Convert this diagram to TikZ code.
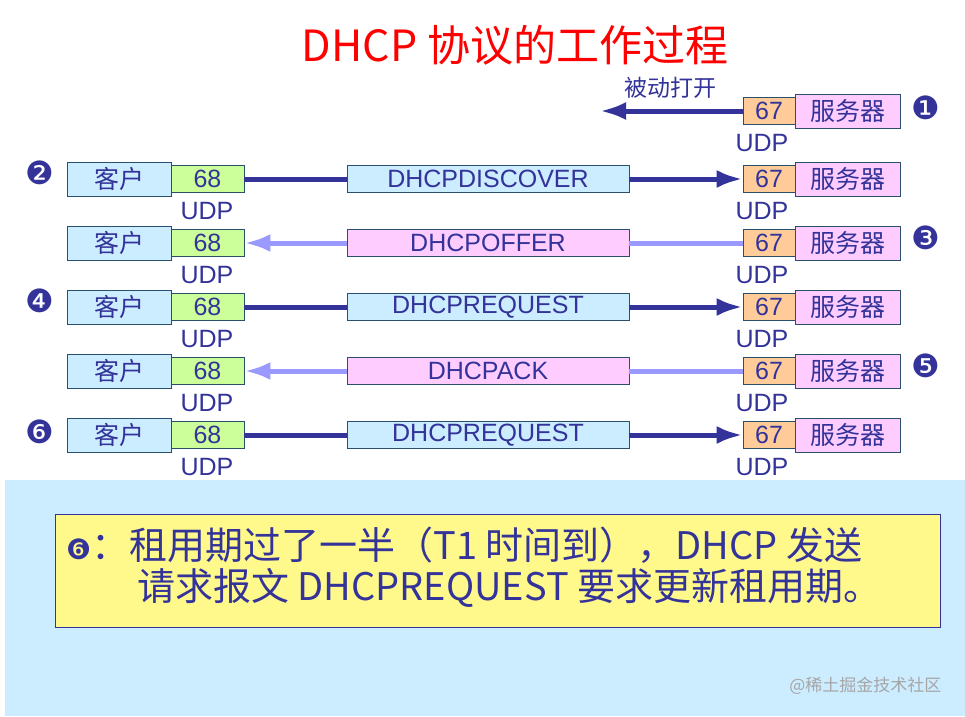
\documentclass[tikz,border=0pt]{standalone}
\usepackage{fontspec}
\setmainfont{Liberation Sans}
\newfontfamily\cjk{Noto Sans CJK SC}
\newfontfamily\dv{DejaVu Sans}
\usetikzlibrary{arrows.meta}
\definecolor{navy}{RGB}{51,51,153}
\definecolor{lblue}{RGB}{204,236,255}
\definecolor{lgreen}{RGB}{204,255,153}
\definecolor{lorange}{RGB}{255,204,153}
\definecolor{lpink}{RGB}{255,204,255}
\definecolor{larrow}{RGB}{153,153,255}
\definecolor{edge}{RGB}{40,80,110}
\begin{document}
\begin{tikzpicture}[x=1pt,y=-1pt,
  bx/.style={draw=edge,line width=0.8pt,inner sep=0pt,text=navy,font=\fontsize{25}{25}\selectfont},
  client/.style={bx,fill=lblue,minimum width=104pt,minimum height=34pt,font=\cjk\fontsize{25}{25}\selectfont},
  cport/.style={bx,fill=lgreen,minimum width=73pt,minimum height=27pt},
  sport/.style={bx,fill=lorange,minimum width=52pt,minimum height=27pt},
  server/.style={bx,fill=lpink,minimum width=105pt,minimum height=34pt,font=\cjk\fontsize{25}{25}\selectfont},
  msgb/.style={bx,fill=lblue,minimum width=282pt,minimum height=27pt},
  msgp/.style={bx,fill=lpink,minimum width=282pt,minimum height=27pt},
  udp/.style={text=navy,font=\fontsize{25}{25}\selectfont,inner sep=0pt},
  num/.style={text=navy,font=\dv\fontsize{32}{32}\selectfont,inner sep=0pt},
  dark/.style={line width=5pt,draw=navy},
  light/.style={line width=5pt,draw=larrow},
  btext/.style={anchor=west,text=navy,font=\cjk\fontsize{38}{38}\selectfont,inner sep=0pt},
]
\fill[white] (0,0) rectangle (965,716);
\fill[lblue] (5,480) rectangle (965,716);
\node[text=red,font=\cjk\fontsize{43}{43}\selectfont] (title) at (515,45) {DHCP 协议的工作过程};
% row 1
\node[server] (s1) at (847.5,111) {服务器};
\node[sport] (p1) at (769,111) {67};
\node[udp] (u1) at (762,143) {UDP};
\node[num] (n1) at (926,108) {❶};
\coordinate (e1) at (600,111);
\draw[dark,-{Latex[length=26pt,width=18pt]}] (p1.west) -- (e1);
\node[text=navy,font=\cjk\fontsize{23}{23}\selectfont] (l1) at (670,88) {被动打开};
% rows 2-6
\foreach \i/\y/\m/\dir in {2/179/DHCPDISCOVER/r,3/243/DHCPOFFER/l,4/307/DHCPREQUEST/r,5/371/DHCPACK/l,6/435/DHCPREQUEST/r}{
  \node[client] (c\i) at (119,\y) {客户};
  \node[cport] (q\i) at (207.5,\y) {68};
  \node[udp] (uc\i) at (207,\y+32) {UDP};
  \node[sport] (p\i) at (769,\y) {67};
  \node[server] (s\i) at (847.5,\y) {服务器};
  \node[udp] (us\i) at (762,\y+32) {UDP};
  \if\dir r
    \node[msgb] (m\i) at (488,\y) {\m};
    \draw[dark] (q\i.east) -- (m\i.west);
    \draw[dark,-{Latex[length=26pt,width=18pt]}] (m\i.east) -- (p\i.west);
  \else
    \node[msgp] (m\i) at (488,\y) {\m};
    \draw[light] (p\i.west) -- (m\i.east);
    \draw[light,-{Latex[length=26pt,width=18pt]}] (m\i.west) -- (q\i.east);
  \fi
}
\node[num] at (40,173) {❷};
\node[num] at (926,238) {❸};
\node[num] at (40,301) {❹};
\node[num] at (926,366) {❺};
\node[num] at (40,432) {❻};
% bottom
\node[draw=navy,fill=yellow!45,minimum width=885pt,minimum height=113pt,inner sep=0pt] (box) at (497.5,570.5) {};
\node[btext] (t1) at (66,545) {{\dv\fontsize{28}{28}\selectfont ❻}：租用期过了一半（T1 时间到），DHCP 发送};
\node[btext] (t2) at (137,588) {请求报文 DHCPREQUEST 要求更新租用期。};
\node[text=gray!70,font=\cjk\fontsize{17}{17}\selectfont,anchor=east] (wm) at (945,686) {@稀土掘金技术社区};
\end{tikzpicture}
\end{document}
